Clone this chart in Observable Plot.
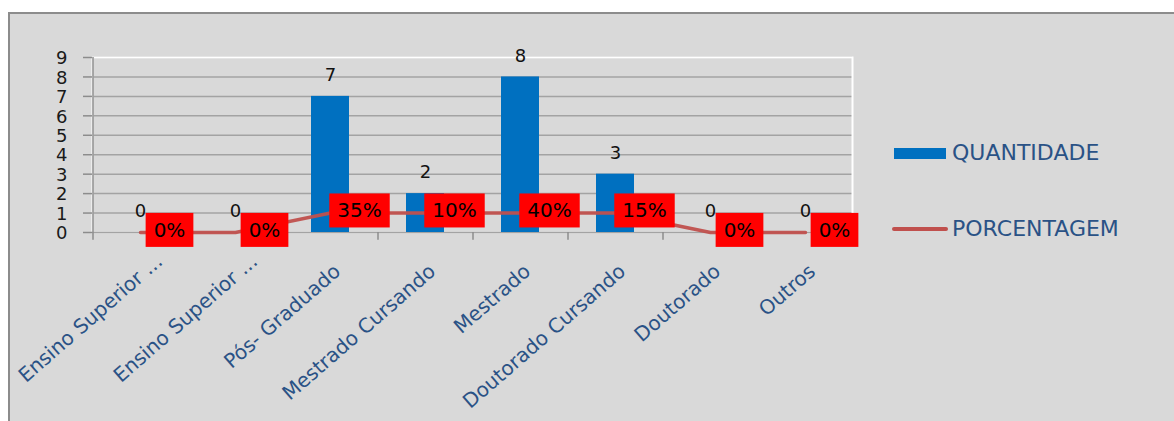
<!DOCTYPE html>
<html>
<head>
<meta charset="utf-8">
<script src="https://cdn.jsdelivr.net/npm/d3@7"></script>
<script src="https://cdn.jsdelivr.net/npm/@observablehq/plot@0.6"></script>
<style>
  body { margin: 0; background: #fff; }
  #wrap { position: relative; width: 1174px; height: 421px; overflow: hidden; background: #fff; font-family: "DejaVu Sans", sans-serif; }
  #panel { position: absolute; left: 8px; top: 12px; width: 1200px; height: 440px; background: #d9d9d9; border-left: 2px solid #8c8c8c; border-top: 2px solid #8c8c8c; }
  #chart { position: absolute; left: 0; top: 0; }
  .lg-swatch { position: absolute; }
  .lg-text { position: absolute; font-size: 22px; line-height: 22px; color: #2a5286; white-space: nowrap; }
</style>
</head>
<body>
<div id="wrap">
  <div id="panel"></div>
  <div id="chart"></div>
  <div class="lg-swatch" style="left:894px;top:148px;width:52px;height:11px;background:#0070c0;"></div>
  <div class="lg-text" id="lg1" style="left:952px;top:142px;"></div>
  <div class="lg-swatch" style="left:892px;top:227px;width:56px;height:4px;border-radius:2px;background:#c0504d;"></div>
  <div class="lg-text" id="lg2" style="left:952px;top:218px;"></div>
</div>
<script>
const categories = ["Ensino Superior ...", "Ensino Superior ...", "Pós- Graduado", "Mestrado Cursando", "Mestrado", "Doutorado Cursando", "Doutorado", "Outros"];
const categoryKeys = ["c1", "c2", "c3", "c4", "c5", "c6", "c7", "c8"];
const quantities = [0, 0, 7, 2, 8, 3, 0, 0];
const lineValues = [0, 0, 1, 1, 1, 1, 0, 0];
const pctLabels = ["0%", "0%", "35%", "10%", "40%", "15%", "0%", "0%"];
const yTicks = [0, 1, 2, 3, 4, 5, 6, 7, 8, 9];
const seriesNames = ["QUANTIDADE", "PORCENTAGEM"];

const rows = categoryKeys.map((k, i) => ({key: k, label: categories[i], q: quantities[i], line: lineValues[i], pct: pctLabels[i]}));
const truncated = rows.filter(d => d.label.endsWith("..."));
const fullLabels = rows.filter(d => !d.label.endsWith("..."));

document.getElementById("lg1").textContent = seriesNames[0];
document.getElementById("lg2").textContent = seriesNames[1];

const step = 95;
const labelStyle = {x: "key", frameAnchor: "bottom", text: "label", rotate: -41, textAnchor: "end", lineAnchor: "middle", fontSize: 20, fill: "#2a5286"};
const plot = Plot.plot({
  width: 1174,
  height: 421,
  marginLeft: 92,
  marginRight: 322,
  marginTop: 57,
  marginBottom: 189,
  style: {background: "transparent", fontFamily: "DejaVu Sans, sans-serif", color: "#222", overflow: "visible"},
  x: {domain: categoryKeys, paddingInner: 0.6, paddingOuter: 0.3, axis: null},
  y: {domain: [0, 9], axis: null},
  marks: [
    Plot.ruleY(yTicks, {y: d => d, stroke: "#a3a3a3", strokeWidth: 1.5}),
    Plot.frame({stroke: "#ffffff", strokeWidth: 2}),
    Plot.ruleY([0], {y: d => d, stroke: "#a3a3a3", strokeWidth: 1.5}),
    // y axis line and ticks
    Plot.ruleX([categoryKeys[0]], {x: d => d, dx: -step / 2, y1: 0, y2: 9, stroke: "#8c8c8c", strokeWidth: 1.5}),
    Plot.ruleY(yTicks, {y: d => d, dx: -9, insetRight: 760 - 9, stroke: "#8c8c8c", strokeWidth: 1.5}),
    Plot.text(yTicks, {y: d => d, frameAnchor: "left", textAnchor: "end", dx: -25, dy: 1, text: d => String(d), fontSize: 18, fill: "#1a1a1a"}),
    // x tick marks at band boundaries
    Plot.ruleX(categoryKeys, {x: d => d, dx: -step / 2, y1: 0, y2: -0.4, stroke: "#8c8c8c", strokeWidth: 1.5}),
    Plot.ruleX([categoryKeys[categoryKeys.length - 1]], {x: d => d, dx: step / 2, y1: 0, y2: -0.4, stroke: "#8c8c8c", strokeWidth: 1.5}),
    // x labels
    Plot.text(fullLabels, {...labelStyle, dx: 7, dy: 36}),
    Plot.text(truncated, {...labelStyle, dx: 19, dy: 26}),
    // bars
    Plot.barY(rows, {x: "key", y: "q", fill: "#0070c0"}),
    Plot.text(rows, {x: "key", y: "q", text: d => String(d.q), dy: -21, fontSize: 18, fill: "#111"}),
    // line
    Plot.line(rows, {x: "key", y: "line", stroke: "#c0504d", strokeWidth: 3.5, strokeOpacity: 0.95}),
    // percentage labels
    Plot.text(rows, {x: "key", y: "line", text: "pct", dx: 29, dy: -2, fontSize: 20, fill: "#000", className: "pct-label"})
  ]
});
document.getElementById("chart").appendChild(plot);

// red boxes behind percentage labels, sized from the rendered text
d3.select(plot).selectAll(".pct-label text").each(function() {
  const b = this.getBBox();
  const padX = 8, padY = 5;
  const r = document.createElementNS("http://www.w3.org/2000/svg", "rect");
  r.setAttribute("x", b.x - padX);
  r.setAttribute("y", b.y - padY);
  r.setAttribute("width", b.width + 2 * padX);
  r.setAttribute("height", b.height + 2 * padY);
  r.setAttribute("fill", "#ff0000");
  const t = this.getAttribute("transform");
  if (t) r.setAttribute("transform", t);
  this.parentNode.insertBefore(r, this);
});
</script>
</body>
</html>
